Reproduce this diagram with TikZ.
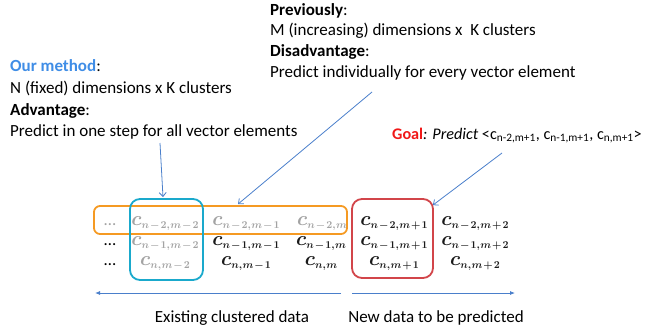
\documentclass[tikz,border=0pt]{standalone}
\usepackage{fix-cm}
\usepackage{fontspec}
\setmainfont{Carlito}
\usetikzlibrary{arrows.meta}
\definecolor{boxorange}{HTML}{F59A23}
\definecolor{boxcyan}{HTML}{1AA9CC}
\definecolor{boxred}{HTML}{D2454A}
\definecolor{arrowblue}{HTML}{4A7FCB}
\definecolor{methodblue}{HTML}{3F8DE6}
\definecolor{goalred}{HTML}{F01818}
\definecolor{cellgray}{HTML}{A3A3A3}
\definecolor{celltext}{HTML}{1A1A1A}
% one matrix entry: a large italic c with its index pair set lower and smaller
\newcommand{\entry}[1]{%
  \mbox{\fontsize{20}{20}\selectfont\boldmath$c$}%
  \raisebox{-3.5pt}{\fontsize{10.5}{12}\selectfont\boldmath
    \medmuskip=1.5mu\thinmuskip=0.5mu$#1$}}
\begin{document}
\begin{tikzpicture}[x=1pt,y=-1pt,
  lbl/.style={anchor=base west, inner sep=0pt, font=\fontsize{17}{20}\selectfont},
  bottomlbl/.style={anchor=base, inner sep=0pt, font=\fontsize{17}{20}\selectfont},
  cell/.style={anchor=base, inner sep=0pt, text=celltext},
  faded/.style={text=cellgray},
  framebox/.style={draw, line width=1.8pt, rounded corners=#1, inner sep=0pt},
  pointer/.style={draw=arrowblue, line width=0.8pt, -{Straight Barb[length=4pt,width=7pt]}},
  span/.style={draw=arrowblue, line width=0.8pt, -{Latex[length=5pt,width=4pt]}}]
\useasboundingbox (0,0) rectangle (650,324);

% previous approach
\node[lbl] (prevhead) at (270,15) {\textbf{Previously}:};
\node[lbl] (prevdim)  at (270,35.5) {M (increasing) dimensions x \ K clusters};
\node[lbl] (disadv)   at (270,56) {\textbf{Disadvantage}:};
\node[lbl] (disadvtx) at (270,77) {Predict individually for every vector element};

% proposed method
\node[lbl] (ourhead) at (10,71) {\textcolor{methodblue}{\textbf{Our method}}:};
\node[lbl] (ourdim)  at (10,93) {N (fixed) dimensions x K clusters};
\node[lbl] (adv)     at (10,115) {\textbf{Advantage}:};
\node[lbl] (advtx)   at (10,136) {Predict in one step for all vector elements};

% goal
\node[lbl, font=\fontsize{16.2}{19}\selectfont] (goal) at (392,139)
  {\textcolor{goalred}{\textbf{Goal}}\textit{: Predict} <c\textsubscript{n-2,m+1}, c\textsubscript{n-1,m+1}, c\textsubscript{n,m+1}>};

% frames
\node[framebox=6pt, draw=boxorange, minimum width=253pt, minimum height=28pt] (orangebox) at (220.5,220) {};
\node[framebox=10pt, draw=boxcyan, minimum width=73pt, minimum height=81pt] (cyanbox) at (166.5,239.5) {};
\node[framebox=10pt, draw=boxred, minimum width=81pt, minimum height=79pt] (redbox) at (392.5,238.5) {};

% matrix entries
\node[lbl, anchor=base, faded] (d1) at (110,225) {…};
\node[cell, faded] (c11) at (165,225) {\entry{n-2,m-2}};
\node[cell, faded] (c12) at (246,225) {\entry{n-2,m-1}};
\node[cell, faded] (c13) at (322,225) {\entry{n-2,m}};
\node[cell] (c14) at (394,225) {\entry{n-2,m+1}};
\node[cell] (c15) at (475,225) {\entry{n-2,m+2}};

\node[lbl, anchor=base] (d2) at (110,245) {…};
\node[cell, faded] (c21) at (165,245) {\entry{n-1,m-2}};
\node[cell] (c22) at (246,245) {\entry{n-1,m-1}};
\node[cell] (c23) at (321,245) {\entry{n-1,m}};
\node[cell] (c24) at (394,245) {\entry{n-1,m+1}};
\node[cell] (c25) at (475,245) {\entry{n-1,m+2}};

\node[lbl, anchor=base] (d3) at (110,265) {…};
\node[cell, faded] (c31) at (165,265) {\entry{n,m-2}};
\node[cell] (c32) at (246,265) {\entry{n,m-1}};
\node[cell] (c33) at (321,265) {\entry{n,m}};
\node[cell] (c34) at (394,265) {\entry{n,m+1}};
\node[cell] (c35) at (475,265) {\entry{n,m+2}};

% callout pointers
\coordinate (advtail) at (160,143);
\coordinate (prevtail) at (372,92);
\coordinate (goaltail) at (502,153);
\draw[pointer] (advtail) -- ([xshift=-3.5pt,yshift=1pt]cyanbox.north);
\draw[pointer] (prevtail) -- ([xshift=17.5pt,yshift=1pt]orangebox.north);
\draw[pointer] (goaltail) -- ([xshift=-1pt,yshift=-7pt]redbox.north east);

% time axis
\coordinate (exl) at (95,293);
\coordinate (exr) at (341,293);
\coordinate (nwl) at (352,293);
\coordinate (nwr) at (515,293);
\draw[span] (exr) -- (exl);
\draw[span] (nwl) -- (nwr);
\node[bottomlbl] (exlabel) at (232,322) {Existing clustered data};
\node[bottomlbl] (nwlabel) at (436,322) {New data to be predicted};
\end{tikzpicture}
\end{document}
